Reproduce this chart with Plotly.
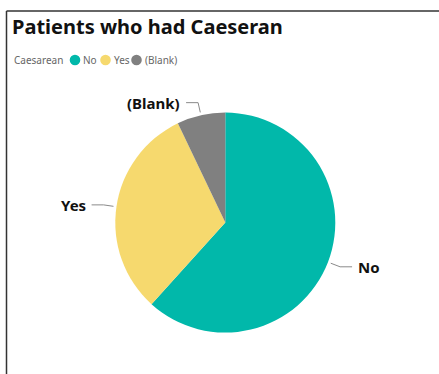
import math
import plotly.graph_objects as go

# ---- data ----
categories = ["No", "Yes", "(Blank)"]
values = [61.7, 31.2, 7.1]
colors = ["#01B8AA", "#F6D96E", "#808080"]
legend_title = "Caesarean"
title_text = "Patients who had Caeseran"

W, H = 439, 374
CX, CY, R = 225.3, 222.6, 110.0  # pie centre / radius in pixels


def px(x):
    return x / W


def py(y):
    return 1 - y / H


fig = go.Figure()
fig.add_trace(go.Pie(
    labels=categories, values=values, sort=False, direction="clockwise",
    rotation=0, marker=dict(colors=colors, line=dict(width=0)),
    textinfo="none", showlegend=False, hoverinfo="label+value",
    domain=dict(x=[px(CX - R), px(CX + R)], y=[py(CY + R), py(CY - R)]),
))

shapes = []
annotations = []

# frame lines
shapes.append(dict(type="line", xref="paper", yref="paper", x0=px(6.5), x1=1.0,
                   y0=py(11), y1=py(11), line=dict(color="#333333", width=1.5)))
shapes.append(dict(type="line", xref="paper", yref="paper", x0=px(6.5), x1=px(6.5),
                   y0=py(11), y1=0.0, line=dict(color="#333333", width=1.5)))

# outside labels with leader lines derived from the data
total = sum(values)
cum = 0.0
for cat, v in zip(categories, values):
    mid = (cum + v / 2) / total * 2 * math.pi
    cum += v
    sx, sy = math.sin(mid), -math.cos(mid)
    x0, y0 = CX + (R + 3) * sx, CY + (R + 3) * sy
    x1, y1 = CX + (R + 13) * sx, CY + (R + 13) * sy
    side = 1 if sx >= 0 else -1
    x2 = x1 + side * 12
    shapes.append(dict(type="path", xref="paper", yref="paper",
                       path=f"M {px(x0)},{py(y0)} L {px(x1)},{py(y1)} L {px(x2)},{py(y1)}",
                       line=dict(color="#8a8a8a", width=1)))
    annotations.append(dict(x=px(x2 + side * 4), y=py(y1), xref="paper", yref="paper",
                            text=f"<b>{cat}</b>", showarrow=False,
                            xanchor="left" if side > 0 else "right", yanchor="middle",
                            font=dict(family="Noto Sans", size=15, color="#111111")))

# legend (drawn as text + circles)
LY = 60
annotations.append(dict(x=px(12), y=py(LY), xref="paper", yref="paper", text=legend_title,
                        showarrow=False, xanchor="left", yanchor="middle",
                        font=dict(family="Noto Sans", size=10, color="#666666")))
leg_circle_x = [75, 105.5, 136.5]
for cat, col, cx in zip(categories, colors, leg_circle_x):
    shapes.append(dict(type="circle", xref="paper", yref="paper",
                       x0=px(cx - 5.3), x1=px(cx + 5.3), y0=py(LY + 5.3), y1=py(LY - 5.3),
                       fillcolor=col, line=dict(width=0)))
    annotations.append(dict(x=px(cx + 6), y=py(LY), xref="paper", yref="paper", text=cat,
                            showarrow=False, xanchor="left", yanchor="middle",
                            font=dict(family="Noto Sans", size=10, color="#666666")))

fig.update_layout(
    width=W, height=H, margin=dict(l=0, r=0, t=0, b=0),
    paper_bgcolor="white", plot_bgcolor="white",
    title=dict(text=f"<b>{title_text}</b>", x=px(12), xanchor="left", xref="paper",
               y=py(27), yref="paper", yanchor="middle",
               font=dict(family="Noto Sans", size=20, color="#111111")),
    shapes=shapes, annotations=annotations,
)

fig.write_html("out.html", config={"displayModeBar": False},
               post_script="document.body.style.margin='0';document.body.style.overflow='hidden';")
